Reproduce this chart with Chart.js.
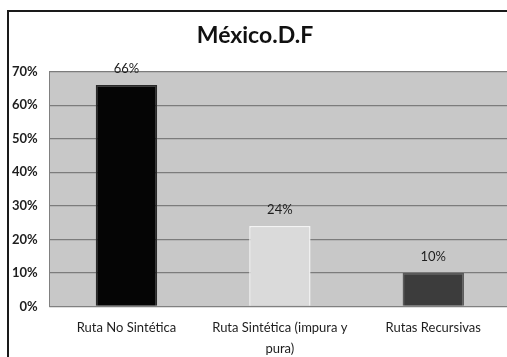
<!DOCTYPE html>
<html>
<head>
<meta charset="utf-8">
<script src="https://cdn.jsdelivr.net/npm/chart.js@4"></script>
<style>
    html, body { margin: 0; padding: 0; background: #fff; }
    #wrap { width: 507px; height: 357px; overflow: hidden; position: relative; background: #fff; }
    #grafica { position: absolute; left: 0; top: 0; }
    #marco {
        position: absolute; left: 7px; top: 10px; width: 600px; height: 400px;
        border-left: 2px solid #1a1a1a; border-top: 2px solid #1a1a1a;
        pointer-events: none;
    }
</style>
</head>
<body>
<div id="wrap">
    <canvas id="grafica" width="523" height="357"></canvas>
    <div id="marco"></div>
</div>
<script>
// datos
const categorias = ['Ruta No Sintética', ['Ruta Sintética (impura y', 'pura)'], 'Rutas Recursivas'];
const porcentajes = [66, 24, 10];
const coloresBarras = ['#050505', '#dadada', '#3c3c3c'];
const bordesBarras = ['#2a2a2a', '#f4f4f4', '#5a5a5a'];
const ticksY = [0, 10, 20, 30, 40, 50, 60, 70];

const fuente = 'Lato, "Open Sans", sans-serif';

// fondo gris del área de trazado
const fondoPlugin = {
    id: 'fondo',
    beforeDraw(chart) {
        const { ctx, chartArea: a } = chart;
        ctx.save();
        ctx.fillStyle = '#c8c8c8';
        ctx.fillRect(a.left, a.top, a.right - a.left, a.bottom - a.top);
        ctx.restore();
    }
};

// etiquetas de valor encima de cada barra
const etiquetasPlugin = {
    id: 'etiquetas',
    afterDatasetsDraw(chart) {
        const { ctx } = chart;
        const meta = chart.getDatasetMeta(0);
        ctx.save();
        ctx.fillStyle = '#1e1e1e';
        ctx.font = '13px ' + fuente;
        ctx.textAlign = 'center';
        ctx.textBaseline = 'middle';
        meta.data.forEach((bar, i) => {
            ctx.fillText(porcentajes[i] + '%', bar.x, bar.y - 16);
        });
        ctx.restore();
    }
};

new Chart(document.getElementById('grafica'), {
    type: 'bar',
    data: {
        labels: categorias,
        datasets: [{
            data: porcentajes,
            backgroundColor: coloresBarras,
            borderColor: bordesBarras,
            borderWidth: 1.5,
            barPercentage: 0.8,
            categoryPercentage: 0.5
        }]
    },
    options: {
        responsive: false,
        animation: false,
        devicePixelRatio: 1,
        layout: { padding: { left: 0, right: 13, top: 0, bottom: -13 } },
        plugins: {
            legend: { display: false },
            tooltip: { enabled: false },
            title: {
                display: true,
                text: 'México.D.F',
                color: '#111',
                font: { family: fuente, size: 23, weight: 'bold' },
                padding: { top: 22, bottom: 22 }
            }
        },
        scales: {
            x: {
                grid: { display: false, drawTicks: false },
                border: { display: true, color: '#808080' },
                ticks: {
                    color: '#1e1e1e',
                    font: { family: fuente, size: 13, lineHeight: 1.6 },
                    padding: 11,
                    maxRotation: 0,
                    autoSkip: false
                }
            },
            y: {
                min: 0,
                max: 70,
                afterBuildTicks(scale) {
                    scale.ticks = ticksY.map(v => ({ value: v }));
                },
                grid: { color: '#7c7c7c', lineWidth: 1.2, drawTicks: false },
                border: { display: true, color: '#808080' },
                ticks: {
                    color: '#1e1e1e',
                    font: { family: fuente, size: 13, weight: 'bold' },
                    padding: 12,
                    callback: v => v + '%'
                }
            }
        }
    },
    plugins: [fondoPlugin, etiquetasPlugin]
});
</script>
</body>
</html>
